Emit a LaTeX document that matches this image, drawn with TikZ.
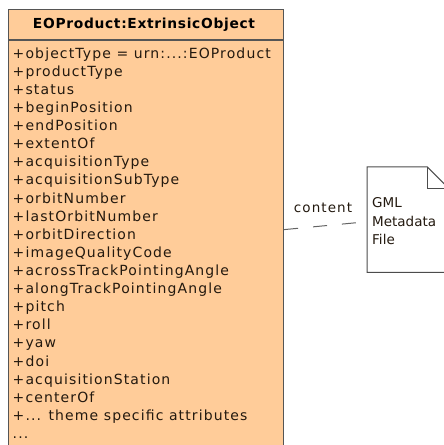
\documentclass[tikz,border=0pt]{standalone}
\usepackage{fontspec}
\setmainfont{DejaVu Sans}
\newfontfamily\attrfont[LetterSpace=8]{DejaVu Sans}
\newfontfamily\headfont[LetterSpace=5]{DejaVu Sans}
\usetikzlibrary{calc}
\newcommand\tdots{...}
\definecolor{clsfill}{RGB}{255,204,153}
\definecolor{clsline}{RGB}{85,85,85}
\definecolor{txt}{RGB}{35,25,15}
\definecolor{conn}{RGB}{100,100,100}
\tikzset{
  classbox/.style={draw=clsline, line width=1.2bp, fill=clsfill, inner sep=0pt, anchor=north west,
    minimum width=275bp, minimum height=470bp},
  attrtext/.style={anchor=base west, inner sep=0pt, text=txt,
    font=\attrfont\fontsize{14bp}{18.1bp}\selectfont},
  headtext/.style={inner sep=0pt, text=black, font=\headfont\bfseries\fontsize{13.8bp}{15bp}\selectfont},
  docbox/.style={anchor=north west, inner sep=0pt, minimum width=82bp, minimum height=105bp},
  docline/.style={draw=black!70, line width=1bp},
  doctext/.style={anchor=base west, inner sep=0pt, text=txt,
    font=\fontsize{13.5bp}{18.5bp}\selectfont},
  connector/.style={draw=conn, line width=1bp, dash pattern=on 14bp off 15bp},
  conlabel/.style={inner sep=0pt, text=txt, font=\attrfont\fontsize{13.5bp}{15bp}\selectfont}
}
\begin{document}
\begin{tikzpicture}[x=1bp,y=-1bp]
\useasboundingbox (0,0) rectangle (444,445);
\clip (0,0) rectangle (444,445);
% class box
\node[classbox] (cls) at (8,9) {};
\draw[draw=clsline, line width=1.2bp] ([yshift=-31bp]cls.north west) coordinate (hl) -- ([yshift=-31bp]cls.north east) coordinate (hr);
\node[headtext, anchor=base] (head) at (144,28.3) {EOProduct:ExtrinsicObject};
\foreach \t [count=\i] in {+objectType = urn:\tdots:EOProduct, +productType, +status, +beginPosition,
  +endPosition, +extentOf, +acquisitionType, +acquisitionSubType, +orbitNumber, +lastOrbitNumber,
  +orbitDirection, +imageQualityCode, +acrossTrackPointingAngle, +alongTrackPointingAngle,
  +pitch, +roll, +yaw, +doi, +acquisitionStation, +centerOf, +\tdots{} theme specific attributes, \tdots}
  \node[attrtext] (a\i) at (12.5,{58.3+18.1*(\i-1)}) {\t};
% document
\node[docbox] (doc) at (367,167) {};
\draw[docline] (doc.south west) -- (doc.north west) -- ([xshift=-22bp]doc.north east) coordinate (fold)
  -- ([yshift=-22bp]doc.north east) -- (doc.south east) -- cycle;
\draw[docline] (fold) -- ([yshift=-22bp]fold) -- ([yshift=-22bp]doc.north east);
\node[doctext] (d1) at (372,207.5) {GML};
\node[doctext] (d2) at (372,226) {Metadata};
\node[doctext] (d3) at (372,244.5) {File};
% connector
\draw[connector] ([yshift=15bp]cls.east) -- ([yshift=-54.7bp]doc.north west);
\node[conlabel, anchor=base] (lbl) at (323,212.5) {content};
\end{tikzpicture}
\end{document}
